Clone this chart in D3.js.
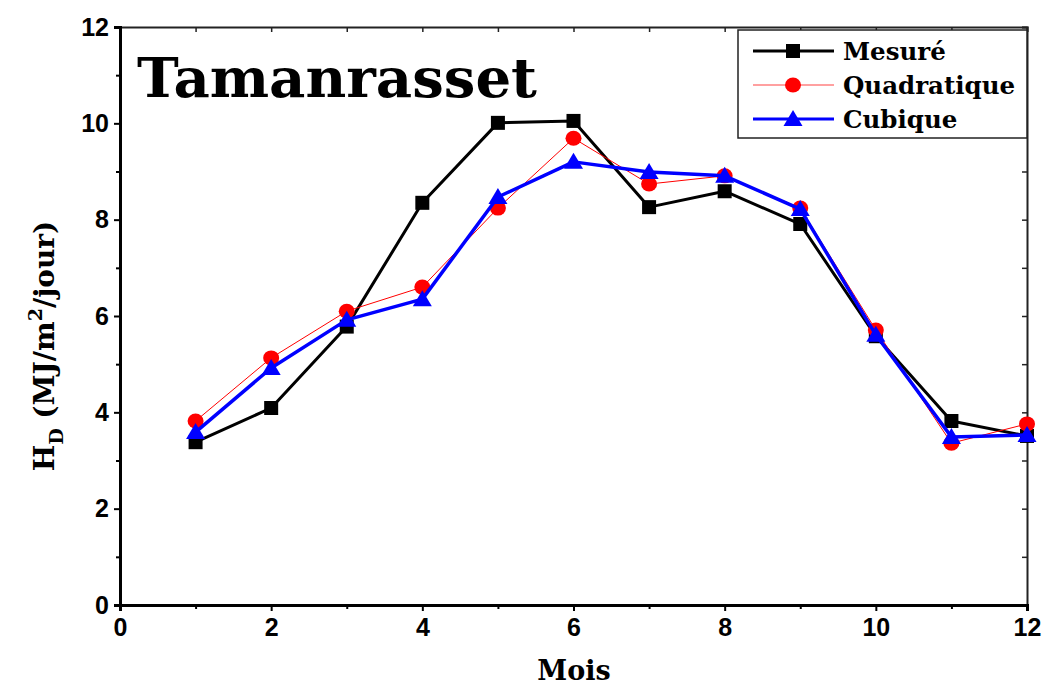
<!DOCTYPE html>
<html>
<head>
<meta charset="utf-8">
<script src="https://cdn.jsdelivr.net/npm/d3@7"></script>
<style>
  html, body { margin: 0; padding: 0; background: #fff; }
  svg { display: block; }
</style>
</head>
<body>
<svg id="chart" width="1046" height="686"></svg>
<script>
// Monthly diffuse irradiation, Tamanrasset
const months = [1, 2, 3, 4, 5, 6, 7, 8, 9, 10, 11, 12];
const mesure = [3.38, 4.09, 5.78, 8.35, 10.01, 10.05, 8.26, 8.59, 7.91, 5.58, 3.82, 3.51];
const quadratique = [3.82, 5.13, 6.10, 6.60, 8.24, 9.69, 8.74, 8.91, 8.24, 5.71, 3.36, 3.76];
const cubique = [3.59, 4.92, 5.92, 6.35, 8.47, 9.20, 8.99, 8.91, 8.22, 5.61, 3.49, 3.53];
const xTicks = [0, 2, 4, 6, 8, 10, 12];
const yTicks = [0, 2, 4, 6, 8, 10, 12];
const seriesNames = ["Mesuré", "Quadratique", "Cubique"];

const svg = d3.select("#chart");
const plotLeft = 120, plotRight = 1027, plotTop = 27, plotBottom = 605;

const x = d3.scaleLinear().domain([0, 12]).range([plotLeft, plotRight]);
const y = d3.scaleLinear().domain([0, 12]).range([plotBottom, plotTop]);

const tickFont = "'Liberation Sans', Arial, sans-serif";
const serif = "'DejaVu Serif', 'Liberation Serif', serif";

// frame: top and right with inward ticks
const topAxis = svg.append("g").attr("transform", `translate(0,${plotTop})`)
  .call(d3.axisBottom(x).tickValues(d3.range(0, 12.01, 1)).tickSize(5).tickFormat(""));
const rightAxis = svg.append("g").attr("transform", `translate(${plotRight},0)`)
  .call(d3.axisLeft(y).tickValues(d3.range(0, 12.01, 1)).tickSize(5).tickFormat(""));
[topAxis, rightAxis].forEach(g => {
  g.select(".domain").attr("stroke", "#222").attr("stroke-width", 2);
  g.selectAll(".tick line").attr("stroke", "#222").attr("stroke-width", 1.5);
});

// bottom axis
const xAxis = svg.append("g").attr("transform", `translate(0,${plotBottom})`)
  .call(d3.axisBottom(x).tickValues(xTicks).tickSize(6).tickPadding(6).tickFormat(d3.format("d")));
svg.append("g").attr("transform", `translate(0,${plotBottom})`)
  .call(d3.axisBottom(x).tickValues(d3.range(1, 12, 2)).tickSize(4).tickFormat(""))
  .call(g => g.select(".domain").remove())
  .selectAll(".tick line").attr("stroke", "#000").attr("stroke-width", 2);

// left axis
const yAxis = svg.append("g").attr("transform", `translate(${plotLeft},0)`)
  .call(d3.axisLeft(y).tickValues(yTicks).tickSize(6).tickPadding(5).tickFormat(d3.format("d")));
svg.append("g").attr("transform", `translate(${plotLeft},0)`)
  .call(d3.axisLeft(y).tickValues(d3.range(1, 12, 2)).tickSize(4).tickFormat(""))
  .call(g => g.select(".domain").remove())
  .selectAll(".tick line").attr("stroke", "#000").attr("stroke-width", 2);

[xAxis, yAxis].forEach(g => {
  g.select(".domain").attr("stroke", "#000").attr("stroke-width", 3);
  g.selectAll(".tick line").attr("stroke", "#000").attr("stroke-width", 2);
  g.selectAll(".tick text").attr("fill", "#000")
    .style("font-family", tickFont).style("font-weight", "bold").style("font-size", "25px");
});
xAxis.selectAll(".tick text").attr("dy", "0.75em");

// axis titles
svg.append("text")
  .attr("x", 574).attr("y", 680)
  .attr("text-anchor", "middle")
  .style("font-family", serif).style("font-weight", "bold").style("font-size", "27px")
  .text("Mois");

const yLab = svg.append("text")
  .attr("transform", `translate(54,${(plotTop + plotBottom) / 2 + 30}) rotate(-90)`)
  .attr("text-anchor", "middle")
  .style("font-family", serif).style("font-weight", "bold").style("font-size", "28px");
yLab.append("tspan").text("H");
yLab.append("tspan").attr("dy", 9).style("font-size", "19px").text("D");
yLab.append("tspan").attr("dy", -9).text(" (MJ/m");
yLab.append("tspan").attr("dy", -12).style("font-size", "19px").text("2");
yLab.append("tspan").attr("dy", 12).text("/jour)");

// title inside plot
svg.append("text")
  .attr("x", 137).attr("y", 97)
  .attr("textLength", 400).attr("lengthAdjust", "spacingAndGlyphs")
  .style("font-family", serif).style("font-weight", "bold").style("font-size", "54px")
  .text("Tamanrasset");

// series
const line = d3.line().x((d, i) => x(months[i])).y(d => y(d));

const series = [
  { name: seriesNames[0], values: mesure, color: "#000", width: 3, shape: "square" },
  { name: seriesNames[1], values: quadratique, color: "#ff0000", width: 1, shape: "circle" },
  { name: seriesNames[2], values: cubique, color: "#0000ff", width: 3.5, shape: "triangle" }
];

function drawMarker(g, shape, color, cx, cy) {
  if (shape === "square") {
    g.append("rect").attr("x", cx - 7).attr("y", cy - 7).attr("width", 14).attr("height", 14).attr("fill", color);
  } else if (shape === "circle") {
    g.append("ellipse").attr("cx", cx).attr("cy", cy).attr("rx", 8).attr("ry", 7.5).attr("fill", color);
  } else {
    g.append("path")
      .attr("d", `M${cx},${cy - 9}L${cx + 9.5},${cy + 7}L${cx - 9.5},${cy + 7}Z`)
      .attr("fill", color);
  }
}

series.forEach(s => {
  const g = svg.append("g");
  g.append("path").datum(s.values)
    .attr("d", line).attr("fill", "none")
    .attr("stroke", s.color).attr("stroke-width", s.width).attr("stroke-linejoin", "round");
  s.values.forEach((v, i) => drawMarker(g, s.shape, s.color, x(months[i]), y(v)));
});

// legend
const lg = svg.append("g");
lg.append("rect").attr("x", 738).attr("y", 30).attr("width", 289).attr("height", 108)
  .attr("fill", "#fff").attr("stroke", "#222").attr("stroke-width", 1.5);
const legendColors = ["#000", "#ff8080", "#0000ff"];
series.forEach((s, i) => {
  const ly = 51 + i * 34;
  lg.append("line").attr("x1", 753).attr("x2", 834).attr("y1", ly).attr("y2", ly)
    .attr("stroke", legendColors[i]).attr("stroke-width", i === 1 ? 1.5 : 3);
  drawMarker(lg, s.shape, s.color, 793, ly);
  lg.append("text").attr("x", 843).attr("y", ly + 9)
    .style("font-family", serif).style("font-weight", "bold").style("font-size", "24.5px")
    .text(s.name);
});
</script>
</body>
</html>
